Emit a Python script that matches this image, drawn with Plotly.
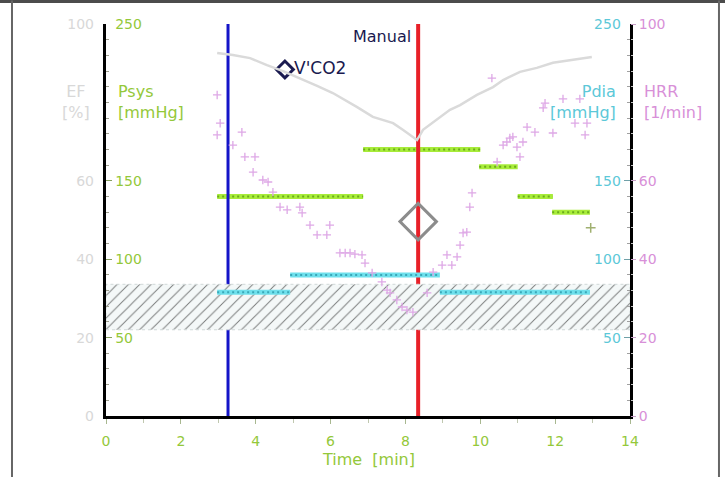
import plotly.graph_objects as go

# ---- systolic pressure blocks [mmHg]
psys_start = [2.97, 6.87, 9.97, 11.00, 11.92]
psys_end = [6.87, 10.00, 11.00, 11.94, 12.93]
psys_val = [140, 170, 159, 140, 130]
psys_last_t = [12.95]
psys_last_v = [120]

# ---- diastolic pressure blocks [mmHg]
pdia_start = [2.97, 4.92, 8.92]
pdia_end = [4.92, 8.92, 12.93]
pdia_val = [79, 90, 79]

# ---- target band for Pdia [mmHg]
band_lo, band_hi = 55, 84

# ---- heart rate reserve samples [1/min]
hrr_t = [2.97, 3.05, 2.97, 3.39, 3.63, 3.71, 3.98, 3.93, 4.19, 4.33, 4.46, 4.65,
         4.84, 5.18, 5.24, 5.45, 5.64, 5.90, 5.98, 6.25, 6.39, 6.52, 6.65, 6.84,
         6.92, 7.11, 7.37, 7.51, 7.59, 7.77, 7.91, 8.04, 8.20,
         8.58, 8.74, 8.98, 9.11, 9.24, 9.38, 9.46, 9.54, 9.64, 9.72, 9.78,
         10.31, 10.45, 10.61, 10.71, 10.79, 10.87, 10.98, 11.06, 11.14, 11.25,
         11.46, 11.68, 11.73, 11.94, 12.21, 12.53, 12.66, 12.80, 12.85]
hrr_val = [81.9, 74.7, 71.7, 69.1, 72.4, 66.1, 66.1, 62.2, 60.2, 59.7, 57.1, 53.3,
           52.6, 53.3, 51.8, 48.7, 46.2, 46.2, 48.7, 41.6, 41.6, 41.6, 41.3, 41.1,
           39.0, 36.5, 34.2, 32.1, 31.4, 29.6, 27.8, 27.0, 26.5,
           31.4, 36.7, 38.5, 41.1, 38.5, 40.6, 43.6, 46.7, 46.9, 53.3, 56.9,
           86.2, 64.8, 69.1, 69.9, 70.9, 71.2, 68.6, 66.1, 69.9, 73.7,
           72.4, 78.6, 79.8, 72.2, 80.9, 74.7, 80.9, 71.7, 74.7]

# ---- ejection fraction trend [%]
ef_t = [2.97, 3.39, 3.85, 4.30, 4.73, 5.18, 5.64, 6.06, 6.39, 6.71, 7.13, 7.67,
        7.93, 8.20, 8.31, 8.47, 8.92, 9.19, 9.46, 9.91, 10.34, 10.61, 11.06,
        11.51, 11.94, 12.48, 12.98]
ef_val = [92.6, 92.1, 91.3, 89.5, 88.0, 86.2, 84.2, 82.4, 80.6, 78.8, 76.3, 74.7,
          73.0, 71.2, 70.4, 73.0, 76.3, 78.1, 79.3, 81.9, 83.9, 85.7, 87.8,
          88.8, 90.1, 90.8, 91.6]

# ---- event markers [min]
event_start_t = 3.26
event_manual_t = 8.34
vco2_t, vco2_v = 8.34, 124
vco2_key_t, vco2_key_v = 4.78, 221

x_ticks = [0, 2, 4, 6, 8, 10, 12, 14]
press_ticks = [50, 100, 150, 250]
pct_ticks = [0, 20, 40, 60, 100]

GREEN = "#94c83a"
CYAN = "#5cc8d8"
PINK = "#d890d8"
LGRAY = "#d8d8d8"
NAVY = "#1a1a50"
FONT = "DejaVu Sans"


def blocks(starts, ends, vals):
    xs, ys = [], []
    for a, b, v in zip(starts, ends, vals):
        xs += [a, b, None]
        ys += [v, v, None]
    return xs, ys


fig = go.Figure()

# hatched band
fig.add_trace(go.Scatter(
    x=[0, 14, 14, 0, 0], y=[band_lo, band_lo, band_hi, band_hi, band_lo],
    yaxis="y2", mode="lines", fill="toself",
    fillpattern=dict(shape="/", size=8, solidity=0.12, fgcolor="#000000", bgcolor="#f4f8f8"),
    line=dict(width=1, color="#d0d8d8", dash="dot"), hoverinfo="skip"))

# EF trend
fig.add_trace(go.Scatter(x=ef_t, y=ef_val, yaxis="y3", mode="lines",
                         line=dict(color="#dadada", width=2.5)))

# HRR samples
fig.add_trace(go.Scatter(x=hrr_t, y=hrr_val, yaxis="y4", mode="markers",
                         marker=dict(symbol="cross-thin", size=6, color="#dea8e6",
                                     line=dict(width=1.3, color="#dea8e6"))))

# Pdia blocks
px_, py_ = blocks(pdia_start, pdia_end, pdia_val)
fig.add_trace(go.Scatter(x=px_, y=py_, yaxis="y2", mode="lines",
                         line=dict(color="#6ee0ec", width=5)))
fig.add_trace(go.Scatter(x=px_, y=py_, yaxis="y2", mode="lines",
                         line=dict(color="#3aa8b8", width=2, dash="2px,3px")))

# Psys blocks
sx, sy = blocks(psys_start, psys_end, psys_val)
fig.add_trace(go.Scatter(x=sx, y=sy, mode="lines",
                         line=dict(color="#a8ec3a", width=5)))
fig.add_trace(go.Scatter(x=sx, y=sy, mode="lines",
                         line=dict(color="#6aac1c", width=2, dash="2px,3px")))
fig.add_trace(go.Scatter(x=psys_last_t, y=psys_last_v, mode="markers",
                         marker=dict(symbol="cross-thin", size=7, color="#a0b070",
                                     line=dict(width=1.5, color="#a0b070"))))

# event lines
fig.add_trace(go.Scatter(x=[event_start_t, event_start_t], y=[0, 250], mode="lines",
                         line=dict(color="#1414c8", width=3)))
fig.add_trace(go.Scatter(x=[event_manual_t, event_manual_t], y=[0, 250], mode="lines",
                         line=dict(color="#e82028", width=4)))

# V'CO2 mark
fig.add_trace(go.Scatter(x=[vco2_t], y=[vco2_v], mode="markers",
                         marker=dict(symbol="diamond-open", size=28, color="#8c8c8c",
                                     line=dict(width=3, color="#8c8c8c"))))
fig.add_trace(go.Scatter(x=[vco2_key_t], y=[vco2_key_v], mode="markers+text",
                         text=["V'CO2"], textposition="middle right",
                         textfont=dict(family=FONT, size=17, color=NAVY),
                         marker=dict(symbol="diamond-open", size=13, color=NAVY,
                                     line=dict(width=3, color=NAVY))))

axis_common = dict(showgrid=False, zeroline=False, ticklabeloverflow="allow")

fig.update_layout(
    width=725, height=477,
    margin=dict(l=106, r=95, t=24, b=61),
    paper_bgcolor="white", plot_bgcolor="white",
    showlegend=False,
    font=dict(family=FONT, size=14),
    xaxis=dict(**axis_common, range=[0, 14], showline=True, linecolor="black", linewidth=3,
               tickvals=x_ticks, ticks="outside", ticklen=5, tickcolor="#a8b890",
               tickfont=dict(color=GREEN, size=14), ticklabelstandoff=5,
               minor=dict(dtick=1, ticks="outside", ticklen=4, tickcolor="#c0c8b0")),
    yaxis=dict(**axis_common, range=[0, 250], showline=True, linecolor="black", linewidth=3,
               tickvals=press_ticks, ticks="inside", ticklen=6, tickcolor="#88a060",
               ticklabelposition="inside", ticklabelstandoff=3,
               tickfont=dict(color=GREEN, size=14),
               minor=dict(dtick=10, ticks="inside", ticklen=3, tickcolor="#a0a090")),
    yaxis2=dict(**axis_common, range=[0, 250], overlaying="y", side="right", anchor="x",
                showline=True, linecolor="black", linewidth=3,
                tickvals=press_ticks, ticks="inside", ticklen=6, tickcolor="#70a0a8",
                ticklabelposition="inside", ticklabelstandoff=3,
                tickfont=dict(color=CYAN, size=14),
                minor=dict(dtick=10, ticks="inside", ticklen=3, tickcolor="#a0a0a0")),
    yaxis3=dict(**axis_common, range=[0, 100], overlaying="y", side="left", anchor="x",
                showline=False, tickvals=pct_ticks, ticks="", ticklabelstandoff=11,
                tickfont=dict(color=LGRAY, size=14)),
    yaxis4=dict(**axis_common, range=[0, 100], overlaying="y", side="right", anchor="x",
                showline=False, tickvals=pct_ticks, ticks="outside", ticklen=5,
                tickcolor="#c8a0c8", tickfont=dict(color=PINK, size=14),
                minor=dict(dtick=4, ticks="outside", ticklen=2, tickcolor="#c0c0c0")),
)

ann = [
    dict(x=0.5, y=-0.112, xref="paper", yref="paper", yanchor="middle", text="Time  [min]",
         font=dict(color=GREEN, size=16), showarrow=False),
    dict(x=0, y=200, xref="x", yref="y", xshift=10, xanchor="left", align="left",
         text="Psys<br>[mmHg]", font=dict(color=GREEN, size=16), showarrow=False),
    dict(x=0, y=200, xref="x", yref="y", xshift=-14, xanchor="right", align="center",
         text="EF<br>[%]", font=dict(color=LGRAY, size=16), showarrow=False),
    dict(x=14, y=200, xref="x", yref="y", xshift=-12, xanchor="right", align="right",
         text="Pdia<br>[mmHg]", font=dict(color=CYAN, size=16), showarrow=False),
    dict(x=14, y=200, xref="x", yref="y", xshift=12, xanchor="left", align="left",
         text="HRR<br>[1/min]", font=dict(color=PINK, size=16), showarrow=False),
    dict(x=event_manual_t, y=242, xref="x", yref="y", xshift=-5, xanchor="right",
         text="Manual", font=dict(color=NAVY, size=16), showarrow=False),
]
fig.update_layout(annotations=ann)

# outer frame
frame = "#4c4c4c"
fig.add_shape(type="line", xref="paper", yref="paper", x0=-0.21, x1=1.19,
              y0=1.0574, y1=1.0574, line=dict(color=frame, width=3))
fig.add_shape(type="line", xref="paper", yref="paper", x0=-0.1794, x1=-0.1794,
              y0=1.06, y1=-0.17, line=dict(color="#666666", width=2))
fig.add_shape(type="line", xref="paper", yref="paper", x0=1.1698, x1=1.1698,
              y0=1.06, y1=-0.17, line=dict(color="#666666", width=2))

fig.write_html("out.html")
